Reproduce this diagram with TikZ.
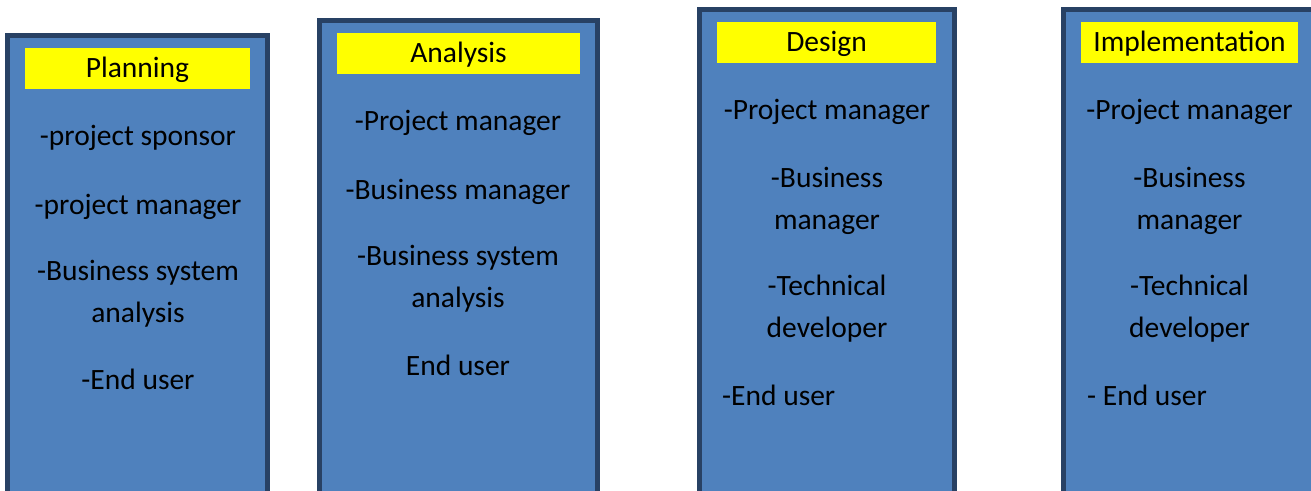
\documentclass[tikz,border=0pt]{standalone}
\usepackage{fontspec}
\setmainfont{Carlito}
\usepackage{tikz}
\usetikzlibrary{shapes,arrows}
\usepackage{xcolor}
\definecolor{phasefill}{RGB}{79,129,189}
\definecolor{phaseedge}{RGB}{40,65,100}
\definecolor{titlefill}{RGB}{255,255,0}

\begin{document}
\begin{tikzpicture}[x=1pt,y=-1pt]
    \tikzstyle{phase} = [draw=phaseedge, fill=phasefill, shape=rectangle, line width=5pt, outer sep=0pt, anchor=north west, minimum height=560pt]
    \tikzstyle{title} = [fill=titlefill, shape=rectangle, minimum height=41pt, inner sep=0pt, text height=0.7em, text depth=0.1em]
    \tikzstyle{item} = [anchor=base, align=center, inner sep=0pt]
    \tikzstyle{itemleft} = [anchor=base west, inner sep=0pt]
    \useasboundingbox (0,0) rectangle (1311,490);
    \fontsize{29.5}{42}\selectfont
    %Creating Phase Boxes
    \node [phase, minimum width=260pt] (planning) at (7.5,35.5) {};
    \node [phase, minimum width=278pt] (analysis) at (319.5,20.5) {};
    \node [phase, minimum width=255pt] (design) at (699.5,9.5) {};
    \node [phase, minimum width=300pt] (implementation) at (1063.5,9.5) {};
    %Creating Titles
    \node [title, minimum width=225pt] (planningtitle) at (137.5,68.5) {Planning};
    \node [title, minimum width=243pt] (analysistitle) at (458.5,53.5) {Analysis};
    \node [title, minimum width=219pt] (designtitle) at (826.5,42.5) {Design};
    \node [title, minimum width=217pt] (implementationtitle) at (1189.5,42.5) {Implementation};
    %Planning Roles (two line roles sit on their last line)
    \node [item] (planningsponsor) at (138,145) {-project sponsor};
    \node [item] (planningmanager) at (138,214) {-project manager};
    \node [item] (planninganalyst) at (138,322) {-Business system\\analysis};
    \node [item] (planninguser) at (138,389) {-End user};
    %Analysis Roles
    \node [item] (analysismanager) at (458,130) {-Project manager};
    \node [item] (analysisbusiness) at (458,199) {-Business manager};
    \node [item] (analysisanalyst) at (458,307) {-Business system\\analysis};
    \node [item] (analysisuser) at (458,375) {End user};
    %Design Roles
    \node [item] (designmanager) at (827,119) {-Project manager};
    \node [item] (designbusiness) at (827,229) {-Business\\manager};
    \node [item] (designdeveloper) at (827,337) {-Technical\\developer};
    \node [itemleft] (designuser) at (722,405) {-End user};
    %Implementation Roles
    \node [item] (implementationmanager) at (1189.5,119) {-Project manager};
    \node [item] (implementationbusiness) at (1189.5,229) {-Business\\manager};
    \node [item] (implementationdeveloper) at (1189.5,337) {-Technical\\developer};
    \node [itemleft] (implementationuser) at (1087,405) {- End user};
\end{tikzpicture}
\end{document}
